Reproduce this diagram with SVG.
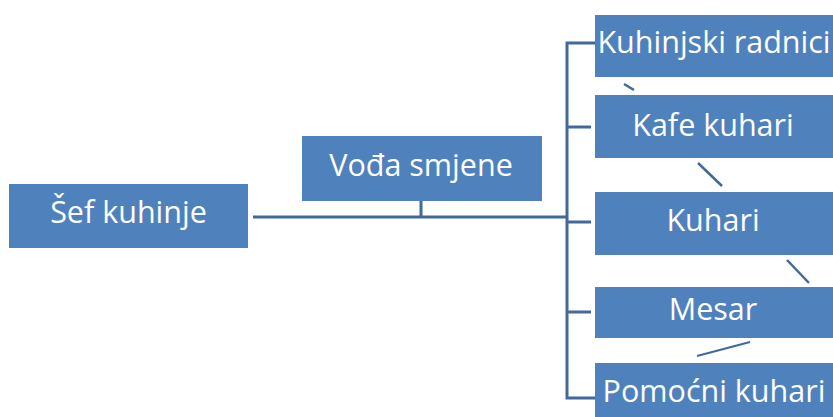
<svg xmlns="http://www.w3.org/2000/svg" width="833" height="417" viewBox="0 0 833 417">
<style>
.box{fill:#4F81BD;}
.t{font-family:"Open Sans","Noto Sans",sans-serif;font-size:30.5px;fill:#FFFFFF;text-anchor:middle;}
.c{stroke:#41699C;stroke-width:3;fill:none;}
.d{stroke:#41699C;stroke-width:2.5;fill:none;}
</style>
<rect width="833" height="417" fill="#FFFFFF"/>
<g id="connectors">
<path class="c" d="M253 217 H567"/>
<path class="c" d="M421 201 V217"/>
<path class="c" d="M597 43 H567 V398 H597"/>
<path class="c" d="M567 127 H591"/>
<path class="c" d="M567 222 H591"/>
<path class="c" d="M567 312 H591"/>
<path class="d" d="M624 84 L634 90"/>
<path class="d" d="M698 163 L722 186"/>
<path class="d" d="M787 260 L809 283"/>
<path class="d" d="M697 356 L750 342" style="stroke-width:2"/>
</g>
<g id="sef">
<rect class="box" x="9" y="184" width="239" height="64"/>
<text class="t" x="128.5" y="223">Šef kuhinje</text>
</g>
<g id="voda">
<rect class="box" x="302" y="136" width="240" height="65"/>
<text class="t" x="421" y="176">Vođa smjene</text>
</g>
<g id="kuhinjski">
<rect class="box" x="595" y="15" width="240" height="62"/>
<text class="t" x="714" y="53">Kuhinjski radnici</text>
</g>
<g id="kafe">
<rect class="box" x="595" y="95" width="240" height="63"/>
<text class="t" x="713" y="136">Kafe kuhari</text>
</g>
<g id="kuhari">
<rect class="box" x="595" y="192" width="240" height="63"/>
<text class="t" x="713" y="231">Kuhari</text>
</g>
<g id="mesar">
<rect class="box" x="595" y="287" width="240" height="51"/>
<text class="t" x="713" y="320">Mesar</text>
</g>
<g id="pomocni">
<rect class="box" x="595" y="363" width="240" height="60"/>
<text class="t" x="714" y="402">Pomoćni kuhari</text>
</g>
</svg>
